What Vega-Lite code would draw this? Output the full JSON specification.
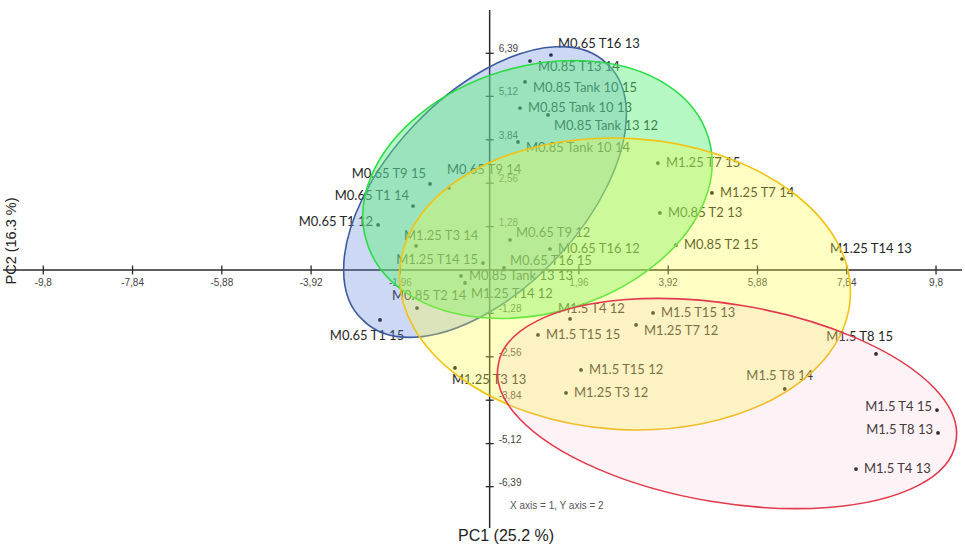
{
  "$schema": "https://vega.github.io/schema/vega-lite/v6.json",
  "width": 965,
  "height": 547,
  "autosize": {"type": "none"},
  "padding": 0,
  "background": "white",
  "config": {
    "view": {"stroke": null},
    "text": {"font": "Lato", "fontSize": 13, "color": "#262626", "baseline": "middle"}
  },
  "datasets": {
    "pts": [
      {"n": "M0.65 T16 13", "x": 1.346, "y": 6.340, "p": "ruu"},
      {"n": "M0.85 T13 14", "x": 0.886, "y": 6.163, "p": "rd"},
      {"n": "M0.85 Tank 10 15", "x": 0.776, "y": 5.544, "p": "rd"},
      {"n": "M0.85 Tank 10 13", "x": 0.666, "y": 4.777, "p": "r"},
      {"n": "M0.85 Tank 13 12", "x": 1.281, "y": 4.571, "p": "rdd"},
      {"n": "M0.85 Tank 10 14", "x": 0.622, "y": 3.775, "p": "rd"},
      {"n": "M1.25 T7 15", "x": 3.694, "y": 3.155, "p": "r"},
      {"n": "M0.65 T9 15", "x": -1.309, "y": 2.536, "p": "lu"},
      {"n": "M0.65 T9 14", "x": -0.892, "y": 2.418, "p": "up"},
      {"n": "M0.65 T1 14", "x": -1.682, "y": 1.887, "p": "lu"},
      {"n": "M0.65 T1 12", "x": -2.450, "y": 1.327, "p": "l"},
      {"n": "M1.25 T3 14", "x": -1.616, "y": 0.708, "p": "ul"},
      {"n": "M0.65 T9 12", "x": 0.447, "y": 0.885, "p": "ru"},
      {"n": "M0.65 T16 12", "x": 1.325, "y": 0.619, "p": "r"},
      {"n": "M1.25 T14 15", "x": -0.146, "y": 0.206, "p": "l"},
      {"n": "M0.65 T16 15", "x": 0.315, "y": 0.059, "p": "ru"},
      {"n": "M0.85 Tank 13 13", "x": -0.629, "y": -0.177, "p": "r"},
      {"n": "M1.25 T14 12", "x": -0.541, "y": -0.383, "p": "rdd"},
      {"n": "M0.85 T2 14", "x": -1.595, "y": -1.121, "p": "ull"},
      {"n": "M0.85 T2 13", "x": 3.738, "y": 1.681, "p": "r"},
      {"n": "M0.85 T2 15", "x": 4.089, "y": 0.737, "p": "r"},
      {"n": "M1.25 T7 14", "x": 4.880, "y": 2.271, "p": "r"},
      {"n": "M1.25 T14 13", "x": 7.736, "y": 0.324, "p": "ul"},
      {"n": "M1.5 T4 12", "x": 1.765, "y": -1.445, "p": "ul"},
      {"n": "M1.5 T15 13", "x": 3.587, "y": -1.268, "p": "r"},
      {"n": "M1.25 T7 12", "x": 3.214, "y": -1.622, "p": "rd"},
      {"n": "M1.5 T15 15", "x": 1.061, "y": -1.917, "p": "r"},
      {"n": "M1.5 T8 15", "x": 8.482, "y": -2.477, "p": "ur"},
      {"n": "M1.5 T15 12", "x": 2.005, "y": -2.949, "p": "r"},
      {"n": "M1.25 T3 13", "x": -0.761, "y": -2.890, "p": "dl"},
      {"n": "M1.25 T3 12", "x": 1.676, "y": -3.627, "p": "r"},
      {"n": "M1.5 T8 14", "x": 6.478, "y": -3.509, "p": "a"},
      {"n": "M1.5 T4 15", "x": 9.821, "y": -4.129, "p": "l"},
      {"n": "M1.5 T8 13", "x": 9.843, "y": -4.807, "p": "l"},
      {"n": "M1.5 T4 13", "x": 8.043, "y": -5.869, "p": "r"},
      {"n": "M0.65 T1 15", "x": -2.407, "y": -1.474, "p": "b"}
    ],
    "ell": [
      {"g": "blue", "x": -0.102, "y": 2.300},
      {"g": "green", "x": 1.050, "y": 2.374},
      {"g": "yellow", "x": 2.971, "y": -0.413},
      {"g": "red", "x": 5.211, "y": -3.937}
    ],
    "lines": [
      {"x": -10.684, "y": 0, "x2": 10.37, "y2": 0},
      {"x": 0, "y": 7.667, "x2": 0, "y2": -7.61}
    ],
    "ticks": [
      {"x": -9.8, "y": 0, "o": "v", "l": "-9,8"}, {"x": -7.84, "y": 0, "o": "v", "l": "-7,84"},
      {"x": -5.88, "y": 0, "o": "v", "l": "-5,88"}, {"x": -3.92, "y": 0, "o": "v", "l": "-3,92"},
      {"x": -1.96, "y": 0, "o": "v", "l": "-1,96"}, {"x": 1.96, "y": 0, "o": "v", "l": "1,96"},
      {"x": 3.92, "y": 0, "o": "v", "l": "3,92"}, {"x": 5.88, "y": 0, "o": "v", "l": "5,88"},
      {"x": 7.84, "y": 0, "o": "v", "l": "7,84"}, {"x": 9.8, "y": 0, "o": "v", "l": "9,8"},
      {"x": 0, "y": -6.39, "o": "h", "l": "-6,39"}, {"x": 0, "y": -5.12, "o": "h", "l": "-5,12"},
      {"x": 0, "y": -3.84, "o": "h", "l": "-3,84"}, {"x": 0, "y": -2.56, "o": "h", "l": "-2,56"},
      {"x": 0, "y": -1.28, "o": "h", "l": "-1,28"}, {"x": 0, "y": 1.28, "o": "h", "l": "1,28"},
      {"x": 0, "y": 2.56, "o": "h", "l": "2,56"}, {"x": 0, "y": 3.84, "o": "h", "l": "3,84"},
      {"x": 0, "y": 5.12, "o": "h", "l": "5,12"}, {"x": 0, "y": 6.39, "o": "h", "l": "6,39"}
    ],
    "notes": [
      {"t": "PC1 (25.2 %)", "x": 0.359, "y": -7.845, "k": "pc1"},
      {"t": "PC2 (16.3 %)", "x": -10.486, "y": 0.855, "k": "pc2"},
      {"t": "X axis = 1, Y axis = 2", "x": 0.447, "y": -6.96, "k": "small"}
    ]
  },
  "encoding": {
    "x": {
      "field": "x", "type": "quantitative",
      "scale": {"domain": [-10.75, 10.436], "nice": false, "zero": false},
      "axis": null
    },
    "y": {
      "field": "y", "type": "quantitative",
      "scale": {"domain": [-8.169, 7.962], "nice": false, "zero": false},
      "axis": null
    }
  },
  "layer": [
    {
      "data": {"name": "lines"},
      "mark": {"type": "rule", "color": "#2a2a2a", "strokeWidth": 1.5},
      "encoding": {"x2": {"field": "x2"}, "y2": {"field": "y2"}}
    },
    {
      "data": {"name": "ticks"},
      "layer": [
        {
          "transform": [{"filter": "datum.o === 'v'"}],
          "mark": {"type": "point", "shape": "M0 -4.5 L0 4.5", "size": 4, "filled": false, "stroke": "#2a2a2a", "strokeWidth": 1.3, "opacity": 1}
        },
        {
          "transform": [{"filter": "datum.o === 'h'"}],
          "mark": {"type": "point", "shape": "M-4 0 L4 0", "size": 4, "filled": false, "stroke": "#2a2a2a", "strokeWidth": 1.3, "opacity": 1}
        },
        {
          "transform": [{"filter": "datum.o === 'v'"}],
          "mark": {"type": "text", "font": "Liberation Sans", "fontSize": 10, "color": "#444", "align": "center", "dy": 13},
          "encoding": {"text": {"field": "l"}}
        },
        {
          "transform": [{"filter": "datum.o === 'h'"}],
          "mark": {"type": "text", "font": "Liberation Sans", "fontSize": 10, "color": "#444", "align": "left", "dx": 9, "dy": -4},
          "encoding": {"text": {"field": "l"}}
        }
      ]
    },
    {
      "data": {"name": "pts"},
      "layer": [
        {"mark": {"type": "point", "filled": true, "size": 14, "color": "#111", "opacity": 1}},
        {"transform": [{"filter": "datum.p === 'r'"}], "mark": {"type": "text", "align": "left", "dx": 8, "dy": 0}, "encoding": {"text": {"field": "n"}}},
        {"transform": [{"filter": "datum.p === 'rd'"}], "mark": {"type": "text", "align": "left", "dx": 8, "dy": 6}, "encoding": {"text": {"field": "n"}}},
        {"transform": [{"filter": "datum.p === 'rdd'"}], "mark": {"type": "text", "align": "left", "dx": 6, "dy": 11}, "encoding": {"text": {"field": "n"}}},
        {"transform": [{"filter": "datum.p === 'ru'"}], "mark": {"type": "text", "align": "left", "dx": 6, "dy": -7}, "encoding": {"text": {"field": "n"}}},
        {"transform": [{"filter": "datum.p === 'ruu'"}], "mark": {"type": "text", "align": "left", "dx": 7, "dy": -11}, "encoding": {"text": {"field": "n"}}},
        {"transform": [{"filter": "datum.p === 'l'"}], "mark": {"type": "text", "align": "right", "dx": -5, "dy": -3}, "encoding": {"text": {"field": "n"}}},
        {"transform": [{"filter": "datum.p === 'lu'"}], "mark": {"type": "text", "align": "right", "dx": -4, "dy": -10}, "encoding": {"text": {"field": "n"}}},
        {"transform": [{"filter": "datum.p === 'ul'"}], "mark": {"type": "text", "align": "left", "dx": -12, "dy": -10}, "encoding": {"text": {"field": "n"}}},
        {"transform": [{"filter": "datum.p === 'ull'"}], "mark": {"type": "text", "align": "left", "dx": -25, "dy": -12}, "encoding": {"text": {"field": "n"}}},
        {"transform": [{"filter": "datum.p === 'up'"}], "mark": {"type": "text", "align": "left", "dx": -2, "dy": -18}, "encoding": {"text": {"field": "n"}}},
        {"transform": [{"filter": "datum.p === 'dl'"}], "mark": {"type": "text", "align": "left", "dx": -3, "dy": 12}, "encoding": {"text": {"field": "n"}}},
        {"transform": [{"filter": "datum.p === 'ur'"}], "mark": {"type": "text", "align": "right", "dx": 17, "dy": -17}, "encoding": {"text": {"field": "n"}}},
        {"transform": [{"filter": "datum.p === 'a'"}], "mark": {"type": "text", "align": "center", "dx": -5, "dy": -13}, "encoding": {"text": {"field": "n"}}},
        {"transform": [{"filter": "datum.p === 'b'"}], "mark": {"type": "text", "align": "center", "dx": -13, "dy": 16}, "encoding": {"text": {"field": "n"}}}
      ]
    },
    {
      "data": {"name": "ell"},
      "mark": {"type": "point", "size": 4, "filled": true, "strokeWidth": 1.6, "opacity": 1},
      "encoding": {
        "shape": {
          "field": "g", "type": "nominal", "legend": null,
          "scale": {
            "domain": ["blue", "green", "yellow", "red"],
            "range": [
              "M121.8 -128.4 A177 96 -46.5 1 1 -121.8 128.4 A177 96 -46.5 1 1 121.8 -128.4 Z",
              "M170.8 -52.2 A178.6 122.8 -17 1 1 -170.8 52.2 A178.6 122.8 -17 1 1 170.8 -52.2 Z",
              "M225.3 13.8 A225.7 145.6 3.5 1 1 -225.3 -13.8 A225.7 145.6 3.5 1 1 225.3 13.8 Z",
              "M228.8 38.3 A232 98 9.5 1 1 -228.8 -38.3 A232 98 9.5 1 1 228.8 38.3 Z"
            ]
          }
        },
        "fill": {
          "field": "g", "type": "nominal", "legend": null,
          "scale": {
            "domain": ["blue", "green", "yellow", "red"],
            "range": ["rgba(90,130,220,0.30)", "rgba(94,240,122,0.45)", "rgba(255,255,60,0.30)", "rgba(240,170,195,0.15)"]
          }
        },
        "stroke": {
          "field": "g", "type": "nominal", "legend": null,
          "scale": {
            "domain": ["blue", "green", "yellow", "red"],
            "range": ["#3d5a9e", "#2bdc46", "#f2c214", "#e23a4c"]
          }
        }
      }
    },
    {
      "data": {"name": "notes"},
      "layer": [
        {"transform": [{"filter": "datum.k === 'pc1'"}], "mark": {"type": "text", "font": "Liberation Sans", "fontSize": 16, "color": "#222", "align": "center"}, "encoding": {"text": {"field": "t"}}},
        {"transform": [{"filter": "datum.k === 'pc2'"}], "mark": {"type": "text", "font": "Liberation Sans", "fontSize": 14.5, "color": "#222", "align": "center", "angle": 270}, "encoding": {"text": {"field": "t"}}},
        {"transform": [{"filter": "datum.k === 'small'"}], "mark": {"type": "text", "font": "Liberation Sans", "fontSize": 10, "color": "#555", "align": "left"}, "encoding": {"text": {"field": "t"}}}
      ]
    }
  ]
}
